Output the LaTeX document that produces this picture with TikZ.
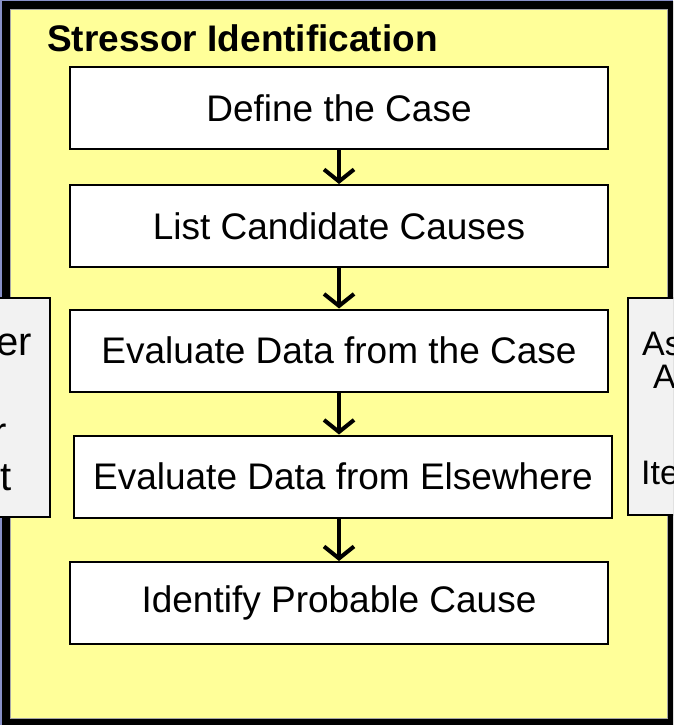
\documentclass[tikz,border=0pt]{standalone}
\usepackage{fontspec}
\setmainfont{Liberation Sans}
\usetikzlibrary{arrows.meta}
\definecolor{backblue}{RGB}{136,144,200}
\definecolor{panelyellow}{RGB}{255,255,153}
\definecolor{sidegray}{RGB}{242,242,242}
\begin{document}
\begin{tikzpicture}[x=1pt,y=-1pt,
  stepbox/.style={draw=black,line width=2pt,fill=white,minimum width=538pt,
    minimum height=82pt,inner sep=0pt,font=\fontsize{37}{44}\selectfont},
  flow/.style={line width=4pt,-{Straight Barb[length=12pt,width=30pt]}},
  sidebox/.style={draw=black,line width=1.5pt,fill=sidegray,inner sep=0pt},
  sidetextl/.style={inner sep=0pt,font=\fontsize{40}{48}\selectfont},
  sidetextr/.style={inner sep=0pt,font=\fontsize{34}{40}\selectfont}]
\useasboundingbox (0,0) rectangle (673,725);
\clip (0,0) rectangle (673,725);
% backdrop and framed panel
\fill[backblue] (0,0) rectangle (673,725);
\draw[line width=8pt,fill=panelyellow] (6,5) rectangle (672,723);
\draw[gray!70,line width=0.8pt] (10.4,9.4) rectangle (667.6,718.6);

% neighbouring panels, partly off the page
\node[sidebox,minimum width=62pt,minimum height=219pt] (leftbox) at (19,407.5) {};
\node[sidebox,minimum width=62pt,minimum height=217pt] (rightbox) at (659,406.5) {};
\node[sidetextl,anchor=base east] (l1) at (32,355) {er};
\node[sidetextl,anchor=base east] (l2) at (7,445) {r};
\node[sidetextl,anchor=base east] (l3) at (12,490) {t};
\node[sidetextr,anchor=base west] (r1) at (642,355) {As};
\node[sidetextr,anchor=base west] (r2) at (653,388) {A};
\node[sidetextr,anchor=base west] (r3) at (641,484) {Ite};

% title
\node[anchor=base west,inner sep=0pt,font=\bfseries\fontsize{37}{44}\selectfont]
  (title) at (47,52) {Stressor Identification};

% steps
\node[stepbox] (define) at (339,108) {Define the Case};
\node[stepbox] (list) at (339,226) {List Candidate Causes};
\node[stepbox] (evalcase) at (339,350.5) {Evaluate Data from the Case};
\node[stepbox] (elsewhere) at (343,476.5) {Evaluate Data from Elsewhere};
\node[stepbox] (identify) at (339,603) {Identify Probable Cause};

% connectors
\draw[flow] (define.south) -- (list.north);
\draw[flow] (list.south) -- (evalcase.north);
\draw[flow] (evalcase.south) -- (evalcase.south |- elsewhere.north);
\draw[flow] (identify.north |- elsewhere.south) -- (identify.north);
\end{tikzpicture}
\end{document}
